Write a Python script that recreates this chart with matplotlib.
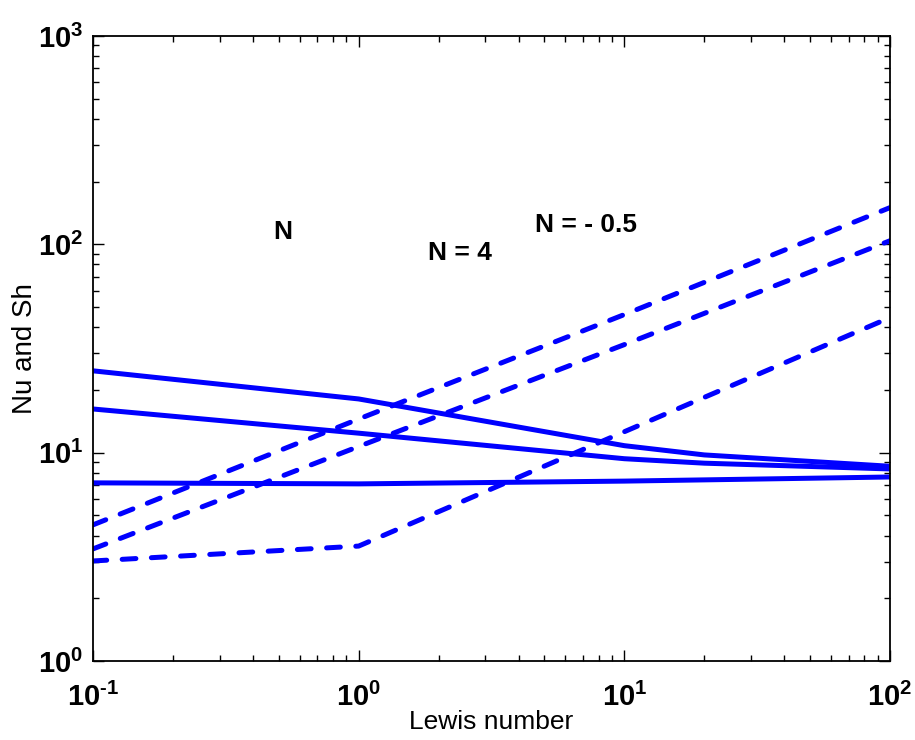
import math
import matplotlib
matplotlib.use("Agg")
import matplotlib.pyplot as plt
from matplotlib.ticker import LogLocator, FuncFormatter, NullFormatter

plt.rcParams['font.family'] = ['Liberation Sans', 'DejaVu Sans']
plt.rcParams['mathtext.fontset'] = 'custom'
plt.rcParams['mathtext.rm'] = 'Liberation Sans:bold'
plt.rcParams['mathtext.it'] = 'Liberation Sans:bold'
plt.rcParams['mathtext.bf'] = 'Liberation Sans:bold'

# Lewis number grid and curves
lewis = [0.1, 1, 10, 20, 100]
nu_top = [24.7, 18.1, 10.8, 9.75, 8.6]
nu_mid = [16.2, 12.4, 9.35, 8.9, 8.35]
nu_low = [7.16, 7.08, 7.3, 7.4, 7.64]

lewis_sh = [0.1, 1, 10, 100]
sh_top = [4.5, 14.5, 46, 150]
sh_mid = [3.45, 10.7, 33, 104]
sh_low = [3.02, 3.56, 12.6, 44.5]

labels = ["N", "N = 4", "N = - 0.5"]
label_pos = [(0.52, 115), (2.4, 91), (7.2, 124)]

fig = plt.figure(figsize=(9.15, 7.4), dpi=100)
ax = fig.add_axes([0.1016, 0.1068, 0.8711, 0.8446])

blue = '#0000ff'
for ys in (nu_top, nu_mid, nu_low):
    ax.plot(lewis, ys, color=blue, lw=3.6, solid_capstyle='round')
for ys in (sh_top, sh_mid, sh_low):
    ax.plot(lewis_sh, ys, color=blue, lw=3.6, linestyle=(0, (2.75, 3.1)),
            dash_capstyle='round')

ax.set_xscale('log')
ax.set_yscale('log')
ax.set_xlim(0.1, 100)
ax.set_ylim(1, 1000)


def pow10(v, pos):
    e = round(math.log10(v))
    return r'$\mathrm{10^{\text{%d}}}$' % e


for axis in (ax.xaxis, ax.yaxis):
    axis.set_major_locator(LogLocator(base=10, numticks=10))
    axis.set_minor_locator(LogLocator(base=10, subs=range(2, 10), numticks=10))
    axis.set_major_formatter(FuncFormatter(pow10))
    axis.set_minor_formatter(NullFormatter())

ax.tick_params(which='both', direction='in', top=True, right=True, width=1.0)
ax.tick_params(which='major', length=8, labelsize=21)
ax.tick_params(which='minor', length=4)
ax.tick_params(axis='x', which='major', pad=16)
ax.tick_params(axis='y', which='major', pad=7)
for s in ax.spines.values():
    s.set_linewidth(1.3)

ax.set_xlabel('Lewis number', fontsize=19, labelpad=-2)
ax.set_ylabel('Nu and Sh', fontsize=20, labelpad=0)

for txt, (x, y) in zip(labels, label_pos):
    ax.text(x, y, txt, fontsize=19, fontweight='bold', ha='center', va='center')

fig.savefig('out.png', dpi=100)
